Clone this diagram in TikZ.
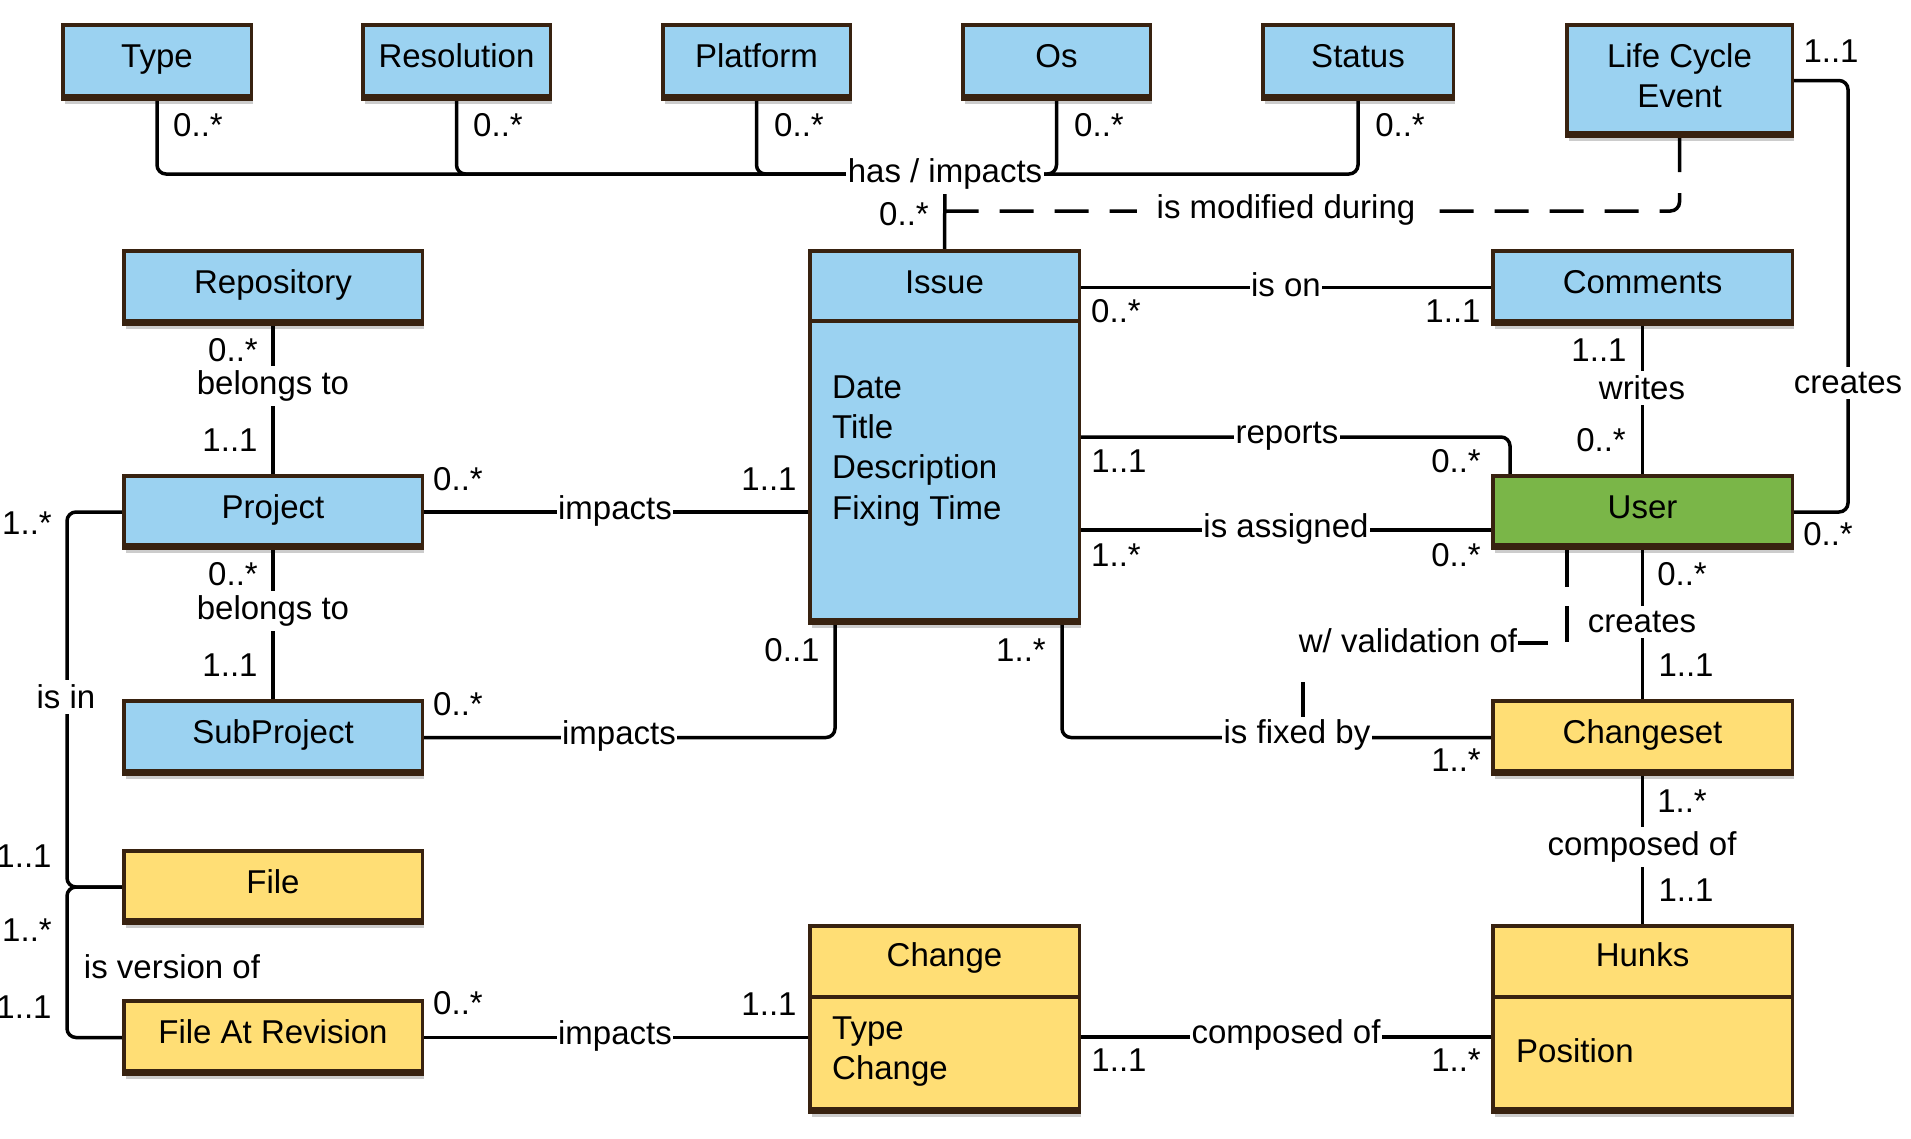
\documentclass[tikz,border=0pt]{standalone}
\usepackage{fontspec}
\setmainfont{Liberation Sans}
\usetikzlibrary{shadows}
\definecolor{ublue}{RGB}{155,210,241}
\definecolor{ugreen}{RGB}{122,182,72}
\definecolor{uyellow}{RGB}{255,222,117}
\definecolor{ubrown}{RGB}{56,34,16}
\newcommand\dfont{\fontsize{33}{40}\selectfont}
\pgfdeclarelayer{background}
\pgfsetlayers{background,main}
\tikzset{
 box/.style={draw=ubrown, line width=3.5pt, rectangle, inner sep=0pt,
   drop shadow={shadow xshift=2pt, shadow yshift=-5pt, opacity=0.2, fill=black}},
 btxt/.style={font=\dfont, anchor=base, inner sep=0pt},
 atxt/.style={font=\dfont, anchor=base west, inner sep=0pt},
 conn/.style={draw=black, line width=3.5pt, rounded corners=9pt},
 lbl/.style={font=\dfont, fill=white, inner xsep=1.5pt, inner ysep=5pt},
 mult/.style={font=\dfont, inner sep=0pt},
}
\newcommand\umlbox[6]{%
  \node[box, fill=#6, minimum width={#4-#2-3.5}, minimum height={#5-#3-3.5}] (#1) at ({(#2+#4)/2},{(#3+#5)/2}) {};
  \fill[ubrown] (#2,#5) rectangle (#4,#5-7.5);
}
\begin{document}
\begin{tikzpicture}[x=1pt,y=-1pt]
\useasboundingbox (0,0) rectangle (1911,1138);

% ---------- boxes ----------
\umlbox{Type}{61}{23}{253}{101}{ublue}
\node[btxt] at (157,67) {Type};
\umlbox{Resolution}{361}{23}{552}{101}{ublue}
\node[btxt] at (456.5,67) {Resolution};
\umlbox{Platform}{661}{23}{852}{101}{ublue}
\node[btxt] at (756.5,67) {Platform};
\umlbox{Os}{961}{23}{1152}{101}{ublue}
\node[btxt] at (1056.5,67) {Os};
\umlbox{Status}{1261}{23}{1455}{101}{ublue}
\node[btxt] at (1358,67) {Status};
\umlbox{LCE}{1565}{23}{1794}{138}{ublue}
\node[btxt] at (1679.5,67) {Life Cycle};
\node[btxt] at (1679.5,107) {Event};

\umlbox{Repository}{122}{249}{424}{326}{ublue}
\node[btxt] at (273,293) {Repository};
\umlbox{Project}{122}{474}{424}{550}{ublue}
\node[btxt] at (273,518) {Project};
\umlbox{SubProject}{122}{699}{424}{776}{ublue}
\node[btxt] at (273,743) {SubProject};
\umlbox{File}{122}{849}{424}{925}{uyellow}
\node[btxt] at (273,893) {File};
\umlbox{FileAtRev}{122}{999}{424}{1076}{uyellow}
\node[btxt] at (273,1043) {File At Revision};

\umlbox{Issue}{808}{249}{1081}{625}{ublue}
\draw[ubrown, line width=3.5pt] ([yshift=-72pt]Issue.north west) -- ([yshift=-72pt]Issue.north east);
\node[btxt] at (944.5,293) {Issue};
\node[atxt] at (832,398) {Date};
\node[atxt] at (832,438) {Title};
\node[atxt] at (832,478) {Description};
\node[atxt] at (832,519) {Fixing Time};

\umlbox{Comments}{1491}{249}{1794}{326}{ublue}
\node[btxt] at (1642.5,293) {Comments};
\umlbox{User}{1491}{474}{1794}{550}{ugreen}
\node[btxt] at (1642.5,518) {User};
\umlbox{Changeset}{1491}{699}{1794}{776}{uyellow}
\node[btxt] at (1642.5,743) {Changeset};

\umlbox{Change}{808}{924}{1081}{1114}{uyellow}
\draw[ubrown, line width=3.5pt] ([yshift=-73pt]Change.north west) -- ([yshift=-73pt]Change.north east);
\node[btxt] at (944.5,966) {Change};
\node[atxt] at (832,1039) {Type};
\node[atxt] at (832,1079) {Change};

\umlbox{Hunks}{1491}{924}{1794}{1114}{uyellow}
\draw[ubrown, line width=3.5pt] ([yshift=-73pt]Hunks.north west) -- ([yshift=-73pt]Hunks.north east);
\node[btxt] at (1642.5,966) {Hunks};
\node[atxt] at (1516,1062) {Position};

% ---------- association labels ----------
\node[lbl] (hasimp) at (945,174) {has / impacts};
\node[lbl, inner xsep=20pt] (modif) at (1286,210) {is modified during};
\node[lbl] (ison) at (1286,285) {is on};
\node[lbl] (reports) at (1287,436) {reports};
\node[lbl] (assigned) at (1286,529) {is assigned};
\node[lbl] (writes) at (1642,388) {writes};
\node[lbl] (creates1) at (1848,383) {creates};
\node[lbl] (creates2) at (1642,622) {creates};
\node[lbl] (wval) at (1408,641) {w/ validation of};
\node[lbl] (fixed) at (1297,735) {is fixed by};
\node[lbl] (comp1) at (1642,847) {composed of};
\node[lbl] (comp2) at (1286,1035) {composed of};
\node[lbl] (imp1) at (615,511) {impacts};
\node[lbl] (imp2) at (619,736) {impacts};
\node[lbl] (imp3) at (615,1036) {impacts};
\node[lbl] (belongs1) at (273,386) {belongs to};
\node[lbl] (belongs2) at (273,611) {belongs to};
\node[lbl] (isin) at (66,697) {is in};
\node[lbl] (version) at (172,967) {is version of};

% ---------- connectors ----------
\begin{pgfonlayer}{background}
\fill[white] (0,0) rectangle (1911,1138);
\draw[conn] (Type.south) |- (hasimp.center);
\draw[conn] (Resolution.south) |- (hasimp.center);
\draw[conn] (Platform.south) |- (hasimp.center);
\draw[conn] (Os.south) |- (hasimp.center);
\draw[conn] (Status.south) |- (hasimp.center);
\draw[conn] (Issue.north) -- (hasimp.center);
\draw[conn, dash pattern=on 34pt off 21pt] (LCE.south) |- ([yshift=38pt]Issue.north);

\draw[conn] (Comments.west) -- (Comments.west -| Issue.east);
\draw[conn] (Comments.south) -- (User.north);
\draw[conn] (Issue.east) -| ([xshift=19pt]User.north west);
\path ([yshift=-18pt]User.west) coordinate (ua);
\draw[conn] (ua) -- (ua -| Issue.east);
\draw[conn] (User.east) -- ++(54,0) |- (LCE.east);
\draw[conn] (User.south) -- (Changeset.north);
\draw[conn] (Changeset.south) -- (Hunks.north);
\path ([yshift=-18pt]Change.east) coordinate (ch);
\draw[conn] (ch) -- (ch -| Hunks.west);
\draw[conn] (FileAtRev.east) -- (FileAtRev.east -| Change.west);
\draw[conn] (Project.east) -- (Project.east -| Issue.west);
\draw[conn] (SubProject.east) -| ([xshift=27pt]Issue.south west);
\draw[conn] ([xshift=254pt]Issue.south west) |- (Changeset.west);
\draw[conn] (Repository.south) -- (Project.north);
\draw[conn] (Project.south) -- (SubProject.north);
\draw[conn] (Project.west) -- ++(-55,0) |- (File.west);
\draw[conn] (FileAtRev.west) -- ++(-55,0) |- (File.west);
\end{pgfonlayer}

% w/ validation of fragments
\path ([xshift=76pt]User.south west) coordinate (wv);
\draw[conn] (wv) -- ++(0,37);
\draw[conn] ([yshift=-56pt]wv) -- ([yshift=-92pt]wv);
\coordinate (wvs) at (1518,643);
\draw[conn] (wvs) -- ++(30,0);
\coordinate (fxu) at (1303,682);
\draw[conn] (fxu) -- ++(0,35);

% ---------- multiplicities ----------
\foreach \x in {198,498,799,1099,1400} \node[mult] at (\x,125) {0..*};
\node[mult] at (904,214) {0..*};
\node[mult] at (1831,51) {1..1};
\node[mult] at (1828,534) {0..*};
\node[mult] at (233,350) {0..*};
\node[mult] at (230,440) {1..1};
\node[mult] at (233,574) {0..*};
\node[mult] at (230,665) {1..1};
\node[mult] at (458,479) {0..*};
\node[mult] at (769,479) {1..1};
\node[mult] at (458,704) {0..*};
\node[mult] at (792,650) {0..1};
\node[mult] at (27,523) {1..*};
\node[mult] at (24,856) {1..1};
\node[mult] at (27,930) {1..*};
\node[mult] at (24,1007) {1..1};
\node[mult] at (458,1003) {0..*};
\node[mult] at (769,1004) {1..1};
\node[mult] at (1119,1060) {1..1};
\node[mult] at (1456,1060) {1..*};
\node[mult] at (1116,311) {0..*};
\node[mult] at (1453,311) {1..1};
\node[mult] at (1119,461) {1..1};
\node[mult] at (1456,461) {0..*};
\node[mult] at (1116,555) {1..*};
\node[mult] at (1456,555) {0..*};
\node[mult] at (1599,350) {1..1};
\node[mult] at (1601,440) {0..*};
\node[mult] at (1682,574) {0..*};
\node[mult] at (1686,665) {1..1};
\node[mult] at (1021,650) {1..*};
\node[mult] at (1456,760) {1..*};
\node[mult] at (1682,801) {1..*};
\node[mult] at (1686,890) {1..1};
\end{tikzpicture}
\end{document}
